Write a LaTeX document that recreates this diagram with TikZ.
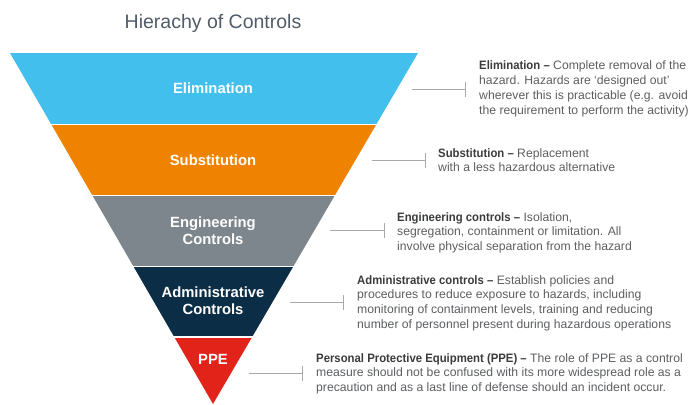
\documentclass[tikz,border=0pt]{standalone}
\usepackage{fontspec}
\setmainfont{Liberation Sans}
% slightly condensed face for the bold lead-in of each description
\newfontfamily\leadfont[FakeStretch=0.93]{Liberation Sans}
\usetikzlibrary{arrows.meta}
\definecolor{elimcol}{HTML}{43BFEE}
\definecolor{substcol}{HTML}{EF8300}
\definecolor{engcol}{HTML}{7E868D}
\definecolor{admincol}{HTML}{0B2E46}
\definecolor{ppecol}{HTML}{E2231A}
\definecolor{desctext}{HTML}{5C5E61}
\definecolor{deschead}{HTML}{3A3B3D}
\definecolor{titlecol}{HTML}{505C69}
\definecolor{connline}{HTML}{A6AAAE}
\newcommand{\lead}[1]{\textcolor{deschead}{\leadfont\bfseries #1}}
\begin{document}
\begin{tikzpicture}[x=1pt,y=-1pt,
  bandlabel/.style={anchor=base,inner sep=0pt,text=white,
    font=\fontsize{14.8}{16.7}\selectfont\bfseries},
  desc/.style={anchor=base west,inner sep=0pt,text=desctext,
    font=\fontsize{12.2}{14.8}\selectfont},
  conn/.style={draw=connline,line width=1pt,
    -{Bar[width=15pt,line width=1pt]}}]
\useasboundingbox (0,0) rectangle (692,404);

% title
\node[anchor=base,inner sep=0pt,text=titlecol,
  font=\fontsize{19.5}{22}\selectfont] (title) at (213,28.3) {Hierachy of Controls};

% inverted triangle split into five bands
\begin{scope}
  \clip (10,53) -- (418,53) -- (213,404) -- cycle;
  \fill[elimcol]  (0,53)    rectangle (430,123.5);
  \fill[substcol] (0,125)   rectangle (430,194.5);
  \fill[engcol]   (0,196)   rectangle (430,265.5);
  \fill[admincol] (0,267)   rectangle (430,336);
  \fill[ppecol]   (0,337.5) rectangle (430,405);
\end{scope}

% band labels
\node[bandlabel] (lelim) at (213,93.8) {Elimination};
\node[bandlabel] (lsubst) at (213,165.3) {Substitution};
\node[bandlabel] (leng) at (213,227.5)
  {\begin{tabular}[t]{@{}c@{}}Engineering\\Controls\end{tabular}};
\node[bandlabel] (ladmin) at (213,297.5)
  {\begin{tabular}[t]{@{}c@{}}Administrative\\Controls\end{tabular}};
\node[bandlabel] (lppe) at (213,364.7) {PPE};

% descriptions
\node[desc] (delim) at (479,70) {\begin{tabular}[t]{@{}l@{}}
  \lead{Elimination –} Complete removal of the\\
  hazard. Hazards are ‘designed out’\\
  wherever this is practicable (e.g. avoid\\
  the requirement to perform the activity)\end{tabular}};
\node[desc] (dsubst) at (438,157) {\begin{tabular}[t]{@{}l@{}}
  \lead{Substitution –} Replacement\\
  with a less hazardous alternative\end{tabular}};
\node[desc] (deng) at (397,221) {\begin{tabular}[t]{@{}l@{}}
  \lead{Engineering controls –} Isolation,\\
  segregation, containment or limitation. All\\
  involve physical separation from the hazard\end{tabular}};
\node[desc] (dadmin) at (357,284) {\begin{tabular}[t]{@{}l@{}}
  \lead{Administrative controls –} Establish policies and\\
  procedures to reduce exposure to hazards, including\\
  monitoring of containment levels, training and reducing\\
  number of personnel present during hazardous operations\end{tabular}};
\node[desc] (dppe) at (316,362) {\begin{tabular}[t]{@{}l@{}}
  \lead{Personal Protective Equipment (PPE) –} The role of PPE as a control\\
  measure should not be confused with its more widespread role as a\\
  precaution and as a last line of defense should an incident occur.\end{tabular}};

% connector end points
\coordinate (celimA) at (412,89);   \coordinate (celimB) at (466,89);
\coordinate (csubstA) at (372,160); \coordinate (csubstB) at (426,160);
\coordinate (cengA) at (330,230);   \coordinate (cengB) at (385,230);
\coordinate (cadminA) at (290,302); \coordinate (cadminB) at (344,302);
\coordinate (cppeA) at (249,373);   \coordinate (cppeB) at (303,373);

\draw[conn] (celimA) -- (celimB);
\draw[conn] (csubstA) -- (csubstB);
\draw[conn] (cengA) -- (cengB);
\draw[conn] (cadminA) -- (cadminB);
\draw[conn] (cppeA) -- (cppeB);
\end{tikzpicture}
\end{document}
